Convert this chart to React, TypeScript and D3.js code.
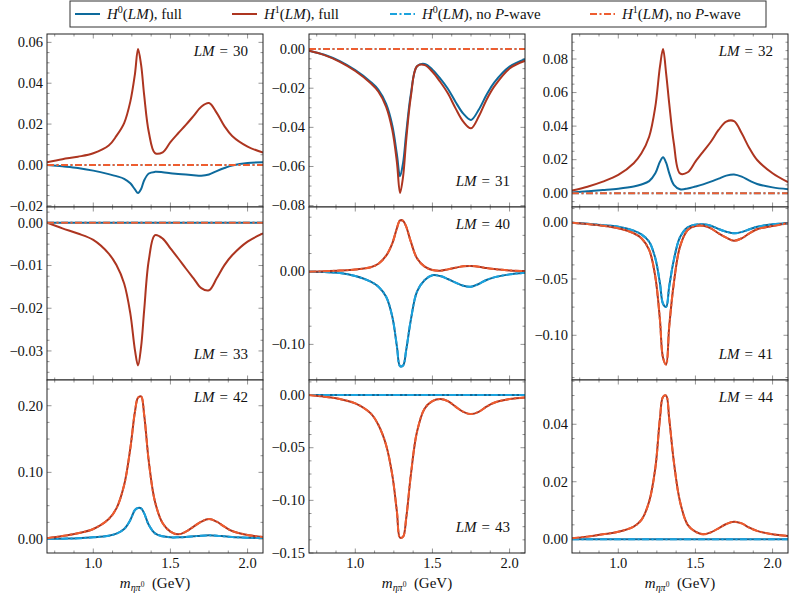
import React from 'react'
import * as d3 from 'd3'

// sample masses (GeV) shared by every curve
const masses = [0.7, 0.8, 0.9, 1.0, 1.1, 1.15, 1.2, 1.24, 1.27, 1.29, 1.31, 1.33, 1.36, 1.4, 1.45, 1.5, 1.55, 1.6, 1.65, 1.7, 1.75, 1.8, 1.85, 1.9, 2.0, 2.1]
const flat = [0, 0, 0, 0, 0, 0, 0, 0, 0, 0, 0, 0, 0, 0, 0, 0, 0, 0, 0, 0, 0, 0, 0, 0, 0, 0]

const h0Full30 = [0.0, -0.0007, -0.0015, -0.0028, -0.0045, -0.0055, -0.0068, -0.009, -0.012, -0.0138, -0.0118, -0.0075, -0.0042, -0.0034, -0.0036, -0.0041, -0.0044, -0.0047, -0.005, -0.0053, -0.0047, -0.003, -0.0015, -0.0003, 0.001, 0.0013]
const h1Full30 = [0.0013, 0.0028, 0.004, 0.0057, 0.0095, 0.0142, 0.0205, 0.031, 0.0445, 0.0568, 0.049, 0.034, 0.016, 0.0058, 0.0062, 0.0112, 0.0155, 0.0196, 0.024, 0.0285, 0.0303, 0.0255, 0.019, 0.0142, 0.009, 0.006]

const h0Full31 = [-0.0008, -0.0029, -0.0062, -0.0108, -0.0168, -0.0208, -0.028, -0.039, -0.054, -0.065, -0.058, -0.043, -0.023, -0.0088, -0.0076, -0.0105, -0.015, -0.0203, -0.027, -0.033, -0.0362, -0.031, -0.0235, -0.0172, -0.009, -0.0052]
const h1Full31 = [-0.0009, -0.0031, -0.0065, -0.0112, -0.0175, -0.0218, -0.0295, -0.0414, -0.058, -0.0735, -0.065, -0.0465, -0.0244, -0.0088, -0.0082, -0.0116, -0.0167, -0.0226, -0.0303, -0.0371, -0.0405, -0.0345, -0.026, -0.0192, -0.0099, -0.006]

const h0Full32 = [0.0005, 0.0012, 0.0019, 0.0027, 0.004, 0.0052, 0.0072, 0.0119, 0.0188, 0.0214, 0.0182, 0.012, 0.005, 0.0024, 0.0028, 0.004, 0.0053, 0.0069, 0.0087, 0.0105, 0.0112, 0.0099, 0.0075, 0.0055, 0.0035, 0.0024]
const h1Full32 = [0.0016, 0.0039, 0.0069, 0.0109, 0.0179, 0.0238, 0.0337, 0.0516, 0.0754, 0.0859, 0.0715, 0.0536, 0.0298, 0.0118, 0.0125, 0.0188, 0.0248, 0.0307, 0.0377, 0.0427, 0.043, 0.0357, 0.0268, 0.0198, 0.0119, 0.0066]

const h1Full33 = [0.0, -0.0013, -0.0025, -0.004, -0.0072, -0.0099, -0.0142, -0.0212, -0.0298, -0.0334, -0.029, -0.0204, -0.0087, -0.0029, -0.0037, -0.006, -0.0083, -0.0107, -0.013, -0.0153, -0.0158, -0.013, -0.0099, -0.0076, -0.0044, -0.0025]

const h0Full40 = [0.0, -0.0005, -0.0018, -0.006, -0.0137, -0.0206, -0.0344, -0.0619, -0.103, -0.13, -0.129, -0.1077, -0.0664, -0.0275, -0.0114, -0.0048, -0.006, -0.0101, -0.0151, -0.0193, -0.0206, -0.0169, -0.0114, -0.0078, -0.0037, -0.0014]
const h1Full40 = [0.0, 0.0006, 0.0015, 0.003, 0.0062, 0.011, 0.022, 0.039, 0.06, 0.0705, 0.07, 0.062, 0.0413, 0.0184, 0.0069, 0.0023, 0.0014, 0.0032, 0.0055, 0.0074, 0.0078, 0.0069, 0.005, 0.0037, 0.0018, 0.001]

const h0Full41 = [0.0, -0.001, -0.0022, -0.0036, -0.0071, -0.0104, -0.0169, -0.0316, -0.0538, -0.072, -0.0748, -0.0568, -0.0331, -0.013, -0.0041, -0.0018, -0.0015, -0.0027, -0.0056, -0.008, -0.0095, -0.0083, -0.0059, -0.0036, -0.0015, -0.0006]
const h1Full41 = [0.0, -0.0012, -0.0027, -0.005, -0.0094, -0.0139, -0.0242, -0.048, -0.0864, -0.12, -0.126, -0.0923, -0.0538, -0.0213, -0.0065, -0.003, -0.0027, -0.005, -0.0095, -0.0133, -0.016, -0.0139, -0.0095, -0.0059, -0.003, -0.0006]

const h0Full42 = [0.0, 0.0005, 0.001, 0.0025, 0.005, 0.008, 0.015, 0.0285, 0.0435, 0.0465, 0.046, 0.0385, 0.021, 0.0085, 0.004, 0.0025, 0.0025, 0.003, 0.004, 0.005, 0.0055, 0.005, 0.004, 0.003, 0.002, 0.0015]
const h1Full42 = [0.001, 0.0045, 0.0085, 0.015, 0.03, 0.046, 0.081, 0.136, 0.191, 0.212, 0.214, 0.186, 0.116, 0.056, 0.0235, 0.011, 0.007, 0.011, 0.0185, 0.026, 0.03, 0.026, 0.0185, 0.012, 0.006, 0.003]

const h1Full43 = [0.0, -0.0016, -0.0038, -0.0079, -0.0174, -0.0285, -0.0476, -0.0761, -0.111, -0.1355, -0.1345, -0.117, -0.0761, -0.0349, -0.0127, -0.0057, -0.0038, -0.0057, -0.011, -0.0159, -0.0181, -0.0159, -0.011, -0.0073, -0.0038, -0.0022]

const h1Full44 = [0.0003, 0.0009, 0.0017, 0.0026, 0.0044, 0.0067, 0.0131, 0.0247, 0.042, 0.0495, 0.05, 0.042, 0.027, 0.0131, 0.005, 0.0026, 0.0017, 0.0024, 0.0038, 0.0053, 0.0061, 0.0055, 0.004, 0.0029, 0.0017, 0.0011]

const xTicks = [1.0, 1.5, 2.0]

const colors = {
  h0Full: '#0d6a9c',
  h1Full: '#ad3520',
  h0NoP: '#1ba2dd',
  h1NoP: '#ee5d30',
}

const FONT = '"Liberation Serif", "Times New Roman", Times, "DejaVu Serif", serif'
const colX = [47, 309, 572]
const rowY = [34, 207, 380]
const W = 216
const H = 173

type PanelDef = {
  lm: string
  h0: number[]
  h1: number[]
  h0n: number[]
  h1n: number[]
  domain: [number, number]
  ticks: number[]
  minor: number
  label: 'top' | 'bottom'
}

const panels: PanelDef[] = [
  { lm: '30', h0: h0Full30, h1: h1Full30, h0n: flat, h1n: flat, domain: [-0.0206, 0.0641], ticks: [-0.02, 0, 0.02, 0.04, 0.06], minor: 0.005, label: 'top' },
  { lm: '31', h0: h0Full31, h1: h1Full31, h0n: flat, h1n: flat, domain: [-0.0807, 0.0077], ticks: [-0.08, -0.06, -0.04, -0.02, 0], minor: 0.005, label: 'bottom' },
  { lm: '32', h0: h0Full32, h1: h1Full32, h0n: flat, h1n: flat, domain: [-0.0082, 0.0949], ticks: [0, 0.02, 0.04, 0.06, 0.08], minor: 0.005, label: 'top' },
  { lm: '33', h0: flat, h1: h1Full33, h0n: flat, h1n: flat, domain: [-0.0368, 0.0037], ticks: [-0.03, -0.02, -0.01, 0], minor: 0.0025, label: 'bottom' },
  { lm: '40', h0: h0Full40, h1: h1Full40, h0n: h0Full40, h1n: h1Full40, domain: [-0.149, 0.089], ticks: [-0.1, 0], minor: 0.025, label: 'top' },
  { lm: '41', h0: h0Full41, h1: h1Full41, h0n: h0Full41, h1n: h1Full41, domain: [-0.1397, 0.0139], ticks: [-0.1, -0.05, 0], minor: 0.0125, label: 'bottom' },
  { lm: '42', h0: h0Full42, h1: h1Full42, h0n: h0Full42, h1n: h1Full42, domain: [-0.021, 0.2386], ticks: [0, 0.1, 0.2], minor: 0.025, label: 'top' },
  { lm: '43', h0: flat, h1: h1Full43, h0n: flat, h1n: h1Full43, domain: [-0.15, 0.0143], ticks: [-0.15, -0.1, -0.05, 0], minor: 0.0125, label: 'bottom' },
  { lm: '44', h0: flat, h1: h1Full44, h0n: flat, h1n: h1Full44, domain: [-0.0048, 0.0554], ticks: [0, 0.02, 0.04], minor: 0.005, label: 'top' },
]

const fmt = (v: number) => {
  const s = d3.format('.2f')(Math.abs(v) < 1e-9 ? 0 : v)
  return s.replace('-', '\u2212')
}

const DASHDOT = '7 2.5 2 2.5'
const textStyle = { fontFamily: FONT }

const Panel = ({ p, idx }: { p: PanelDef; idx: number }) => {
  const col = idx % 3
  const row = Math.floor(idx / 3)
  const x0 = colX[col]
  const y0 = rowY[row]
  const x = d3.scaleLinear().domain([0.7, 2.1]).range([x0, x0 + W])
  const y = d3.scaleLinear().domain(p.domain).range([y0 + H, y0])
  const line = d3
    .line<number>()
    .x((d, i) => x(masses[i]))
    .y((d) => y(d))
    .curve(d3.curveCatmullRom.alpha(0.5))

  const xMinor = d3.range(0.75, 2.1, 0.125).filter((v) => !xTicks.some((t) => Math.abs(t - v) < 1e-6))
  const start = Math.ceil(p.domain[0] / p.minor) * p.minor
  const yMinor = d3
    .range(start, p.domain[1], p.minor)
    .filter((v) => !p.ticks.some((t) => Math.abs(t - v) < 1e-6))
  const clipId = `clip-${p.lm}`
  const tickColor = '#7a7a7a'

  return (
    <g>
      <defs>
        <clipPath id={clipId}>
          <rect x={x0} y={y0} width={W} height={H} />
        </clipPath>
      </defs>
      <rect x={x0} y={y0} width={W} height={H} fill="white" />
      {/* ticks on all four sides, pointing inward */}
      <g stroke={tickColor} strokeWidth={0.8}>
        {xTicks.map((t) => (
          <g key={`xt${t}`}>
            <line x1={x(t)} x2={x(t)} y1={y0 + H} y2={y0 + H - 4.5} />
            <line x1={x(t)} x2={x(t)} y1={y0} y2={y0 + 4.5} />
          </g>
        ))}
        {xMinor.map((t) => (
          <g key={`xm${t}`}>
            <line x1={x(t)} x2={x(t)} y1={y0 + H} y2={y0 + H - 2.5} />
            <line x1={x(t)} x2={x(t)} y1={y0} y2={y0 + 2.5} />
          </g>
        ))}
        {p.ticks.map((t) => (
          <g key={`yt${t}`}>
            <line x1={x0} x2={x0 + 4.5} y1={y(t)} y2={y(t)} />
            <line x1={x0 + W} x2={x0 + W - 4.5} y1={y(t)} y2={y(t)} />
          </g>
        ))}
        {yMinor.map((t) => (
          <g key={`ym${t}`}>
            <line x1={x0} x2={x0 + 2.5} y1={y(t)} y2={y(t)} />
            <line x1={x0 + W} x2={x0 + W - 2.5} y1={y(t)} y2={y(t)} />
          </g>
        ))}
      </g>
      <g clipPath={`url(#${clipId})`} fill="none" strokeWidth={2}>
        <path d={line(p.h0) || ''} stroke={colors.h0Full} />
        <path d={line(p.h1) || ''} stroke={colors.h1Full} />
        <path d={line(p.h0n) || ''} stroke={colors.h0NoP} strokeDasharray={DASHDOT} />
        <path d={line(p.h1n) || ''} stroke={colors.h1NoP} strokeDasharray={DASHDOT} />
      </g>
      <rect x={x0} y={y0} width={W} height={H} fill="none" stroke="#222" strokeWidth={1} />
      <g style={textStyle} fontSize={14.5} fill="#111" textAnchor="end">
        {p.ticks.map((t) => (
          <text key={`yl${t}`} x={x0 - 4} y={y(t)} dy="0.33em" style={textStyle}>
            {fmt(t)}
          </text>
        ))}
      </g>
      {row === 2 && (
        <g style={textStyle} fontSize={14.5} fill="#111" textAnchor="middle">
          {xTicks.map((t) => (
            <text key={`xl${t}`} x={x(t)} y={568} style={textStyle}>
              {d3.format('.1f')(t)}
            </text>
          ))}
          <text x={x0 + W / 2} y={588} fontSize={15} style={textStyle}>
            <tspan fontStyle="italic">m</tspan>
            <tspan fontStyle="italic" fontSize={10} dy={3}>
              ηπ
            </tspan>
            <tspan fontSize={7.5} dy={-4}>
              0
            </tspan>
            <tspan dy={1}>{'\u2002(GeV)'}</tspan>
          </text>
        </g>
      )}
      <text
        x={x0 + W - 15}
        y={p.label === 'top' ? y0 + 22 : y0 + H - 21}
        style={textStyle}
        fontSize={15}
        textAnchor="end"
        fill="#111"
      >
        <tspan fontStyle="italic">LM</tspan>
        {`\u2004=\u2004${p.lm}`}
      </text>
    </g>
  )
}

const legendItems = [
  { color: colors.h0Full, dash: undefined, sup: '0', tail: ', full', x: 75 },
  { color: colors.h1Full, dash: undefined, sup: '1', tail: ', full', x: 232 },
  { color: colors.h0NoP, dash: DASHDOT, sup: '0', tail: ', no ', x: 390 },
  { color: colors.h1NoP, dash: DASHDOT, sup: '1', tail: ', no ', x: 590 },
]

const Legend = () => (
  <g>
    <rect x={70} y={1} width={696} height={26} fill="white" stroke="#333" strokeWidth={1} />
    {legendItems.map((it, i) => (
      <g key={i}>
        <line x1={it.x} x2={it.x + 25} y1={14} y2={14} stroke={it.color} strokeWidth={2} strokeDasharray={it.dash} />
        <text x={it.x + 32} y={19} style={textStyle} fontSize={15} fill="#111">
          <tspan fontStyle="italic">H</tspan>
          <tspan fontSize={10} dy={-6}>
            {it.sup}
          </tspan>
          <tspan dy={6}>(</tspan>
          <tspan fontStyle="italic">LM</tspan>
          <tspan>){it.tail}</tspan>
          {it.dash && (
            <>
              <tspan fontStyle="italic">P</tspan>
              <tspan>-wave</tspan>
            </>
          )}
        </text>
      </g>
    ))}
  </g>
)

export default function App() {
  return (
    <svg
      width={789}
      height={598}
      style={{ position: 'absolute', left: 0, top: 0, background: 'white' }}
    >
      {panels.map((p, i) => (
        <Panel key={p.lm} p={p} idx={i} />
      ))}
      <Legend />
    </svg>
  )
}
